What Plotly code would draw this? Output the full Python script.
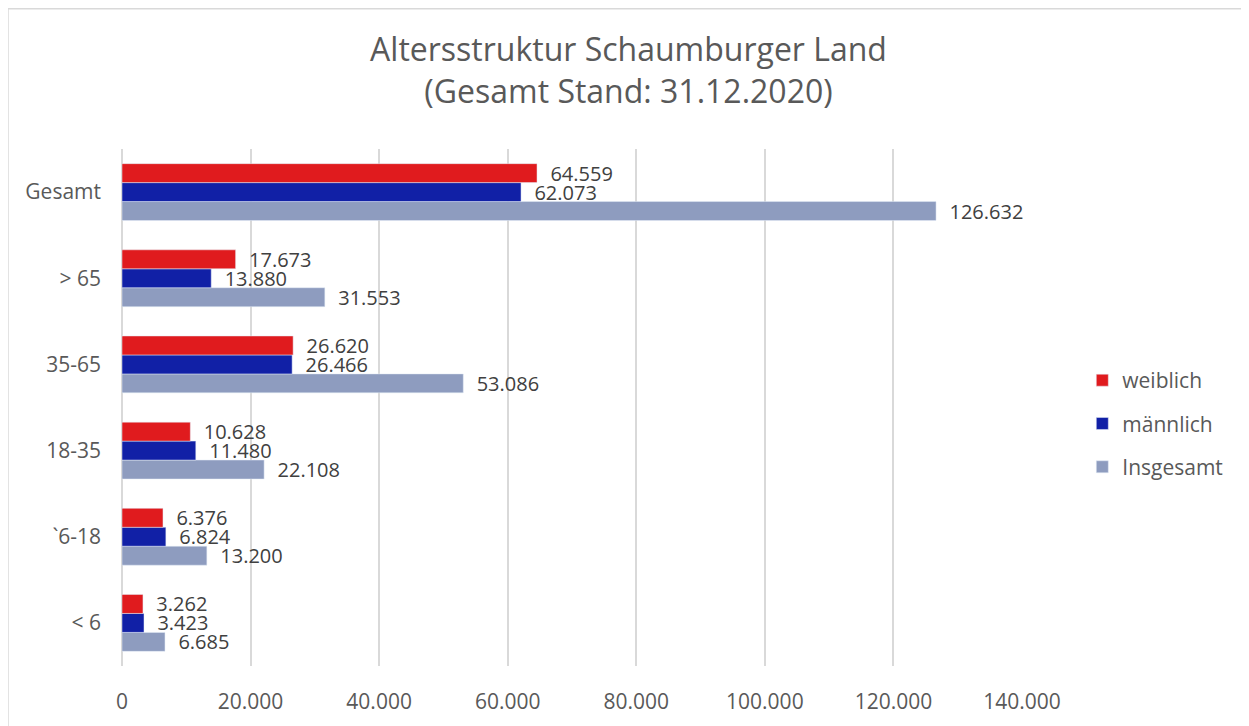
import plotly.graph_objects as go

# categories bottom-to-top (plotly draws the first category at the bottom)
altersgruppen = ["< 6", "`6-18", "18-35", "35-65", "> 65", "Gesamt"]
weiblich = [3262, 6376, 10628, 26620, 17673, 64559]
maennlich = [3423, 6824, 11480, 26466, 13880, 62073]
insgesamt = [6685, 13200, 22108, 53086, 31553, 126632]
x_ticks = [0, 20000, 40000, 60000, 80000, 100000, 120000, 140000]

text_color = '#595959'
font_family = 'Open Sans, Liberation Sans, sans-serif'

fig = go.Figure()

# trace order reversed so weiblich sits on top of each group
series = [
    ('Insgesamt', insgesamt, '#8E9CBF', 3),
    ('männlich', maennlich, '#1120A6', 2),
    ('weiblich', weiblich, '#E01B1E', 1),
]
for name, values, color, rank in series:
    fig.add_trace(go.Bar(
        name=name,
        y=altersgruppen,
        x=values,
        orientation='h',
        marker_color=color,
        legendgroup=name,
        legendrank=rank,
        text=values,
        texttemplate='\u00a0\u00a0%{x:,}',
        textposition='outside',
        constraintext='none',
        textfont=dict(size=20, color='#404040'),
        cliponaxis=False,
    ))

# page body adds an 8px offset, so the figure is 8px smaller than the window
fig.update_layout(
    title=dict(
        text='Altersstruktur Schaumburger Land<br>(Gesamt Stand: 31.12.2020)',
        x=0.5, xref='container', xanchor='center',
        y=0.926, yref='container', yanchor='top',
        font=dict(size=32, color=text_color, family=font_family),
    ),
    separators=',.',
    barmode='group',
    bargap=0.34,
    bargroupgap=0,
    width=1241,
    height=718,
    margin=dict(l=114, r=227, t=141, b=60),
    paper_bgcolor='white',
    plot_bgcolor='white',
    font=dict(family=font_family, color=text_color),
    legend=dict(
        traceorder='grouped',
        x=1.067, xanchor='left',
        y=0.469, yanchor='middle',
        tracegroupgap=13,
        font=dict(size=21, color=text_color),
    ),
    xaxis=dict(
        range=[0, 140000],
        tickvals=x_ticks,
        tickformat=',',
        showgrid=True,
        gridcolor='#D9D9D9',
        gridwidth=1.5,
        zeroline=True,
        zerolinecolor='#D9D9D9',
        zerolinewidth=1.5,
        tickfont=dict(size=21, color=text_color),
        ticklabelstandoff=21,
    ),
    yaxis=dict(
        tickfont=dict(size=21, color=text_color),
        ticklabelstandoff=20,
        showgrid=False,
    ),
    shapes=[dict(
        type='rect', xref='paper', yref='paper',
        x0=-0.1267, x1=1.2511, y0=-0.3, y1=1.2715,
        line=dict(color='#D9D9D9', width=1.5),
    )],
)

fig.write_html("out.html")
